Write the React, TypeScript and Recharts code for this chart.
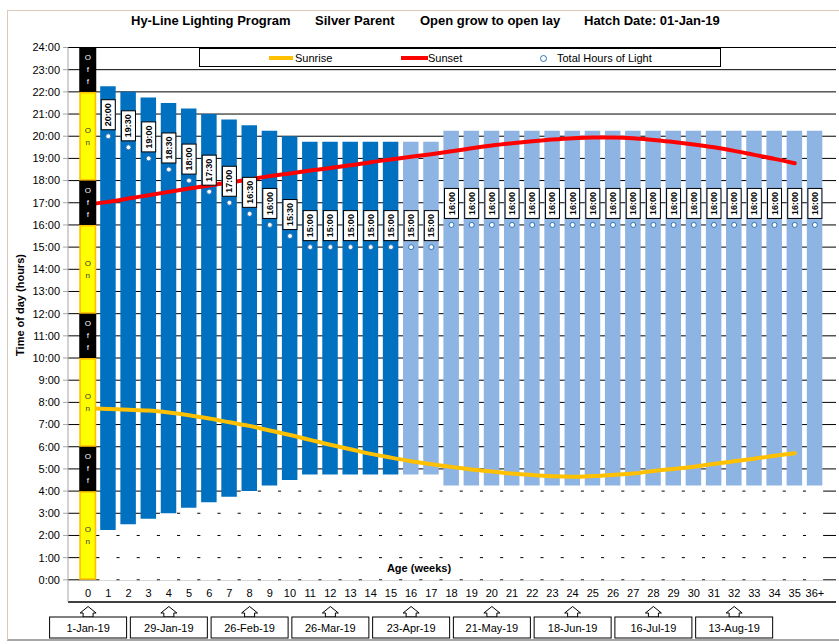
import React from "react";
import {
  Bar,
  CartesianGrid,
  Cell,
  ComposedChart,
  LabelList,
  Legend,
  Line,
  XAxis,
  YAxis,
} from "recharts";

const FONT = '"Liberation Sans", Arial, sans-serif';

const weeks = [
  "0", "1", "2", "3", "4", "5", "6", "7", "8", "9", "10", "11", "12", "13", "14", "15", "16", "17",
  "18", "19", "20", "21", "22", "23", "24", "25", "26", "27", "28", "29", "30", "31", "32", "33", "34", "35", "36+",
];

// time the lights go on (hours)
const lightsOn = [
  null, 2.25, 2.5, 2.75, 3, 3.25, 3.5, 3.75, 4, 4.25, 4.5,
  4.75, 4.75, 4.75, 4.75, 4.75, 4.75, 4.75,
  4.25, 4.25, 4.25, 4.25, 4.25, 4.25, 4.25, 4.25, 4.25, 4.25, 4.25, 4.25, 4.25, 4.25, 4.25, 4.25, 4.25, 4.25, 4.25,
];

// total hours of light
const totalHours = [
  null, 20, 19.5, 19, 18.5, 18, 17.5, 17, 16.5, 16, 15.5,
  15, 15, 15, 15, 15, 15, 15,
  16, 16, 16, 16, 16, 16, 16, 16, 16, 16, 16, 16, 16, 16, 16, 16, 16, 16, 16,
];

const sunrise = [
  7.73, 7.7, 7.67, 7.63, 7.54, 7.42, 7.27, 7.1, 6.94, 6.73, 6.53, 6.31, 6.09, 5.89, 5.68, 5.51, 5.35, 5.21,
  5.09, 4.97, 4.88, 4.79, 4.73, 4.67, 4.65, 4.68, 4.73, 4.79, 4.91, 5.0, 5.1, 5.22, 5.35, 5.46, 5.59, 5.71, null,
];

const sunset = [
  16.93, 17.04, 17.19, 17.34, 17.49, 17.64, 17.78, 17.91, 18.05, 18.2, 18.32, 18.45, 18.57, 18.69, 18.83, 18.95, 19.07, 19.19,
  19.32, 19.46, 19.58, 19.68, 19.77, 19.85, 19.91, 19.94, 19.94, 19.91, 19.83, 19.74, 19.63, 19.5, 19.34, 19.16, 18.98, 18.78, null,
];

// day-old intermittent program: 4h on / 2h off
const chickSegments = [4, 2, 4, 2, 4, 2, 4, 2];
const chickLabels = ["On", "Off", "On", "Off", "On", "Off", "On", "Off"];

const dateLabels = [
  "1-Jan-19", "29-Jan-19", "26-Feb-19", "26-Mar-19", "23-Apr-19",
  "21-May-19", "18-Jun-19", "16-Jul-19", "13-Aug-19",
];

const hourTicks = [0, 1, 2, 3, 4, 5, 6, 7, 8, 9, 10, 11, 12, 13, 14, 15, 16, 17, 18, 19, 20, 21, 22, 23, 24];

const data = weeks.map((week, i) => {
  const row: any = {
    week,
    base: lightsOn[i],
    light: totalHours[i],
    total: totalHours[i],
    sunrise: sunrise[i],
    sunset: sunset[i],
  };
  chickSegments.forEach((v, s) => {
    row["seg" + s] = i === 0 ? v : null;
  });
  return row;
});

const fmtHours = (h: number) => {
  const hh = Math.floor(h);
  const mm = Math.round((h - hh) * 60);
  return `${hh}:${mm < 10 ? "0" + mm : mm}`;
};

function WeekTick(props: any) {
  const { x, y, payload } = props;
  const i = weeks.indexOf(payload.value);
  const showDate = i % 4 === 0 && i / 4 < dateLabels.length;
  return (
    <g>
      <text x={x} y={y - 5} textAnchor="middle" fontSize={11} fill="#000" fontFamily={FONT}>
        {payload.value}
      </text>
      {showDate && (
        <g>
          <path
            d={`M${x},${y + 4.5} L${x + 8},${y + 11} L${x + 5},${y + 11} L${x + 5},${y + 15} L${x - 5},${y + 15} L${x - 5},${y + 11} L${x - 8},${y + 11} Z`}
            fill="#fff"
            stroke="#000"
            strokeWidth={1}
          />
          <rect x={x - 38.5} y={y + 15} width={77} height={21} fill="#fff" stroke="#000" strokeWidth={1} />
          <text x={x} y={y + 30} textAnchor="middle" fontSize={11} fill="#000" fontFamily={FONT}>
            {dateLabels[i / 4]}
          </text>
        </g>
      )}
    </g>
  );
}

const segShape = (s: number) => (props: any) => {
  const { x, y, width, height } = props;
  if (!height || Math.abs(height) < 0.5) return null;
  const cx = x + width / 2;
  const on = s % 2 === 0;
  const letters = chickLabels[s].split("");
  const midY = y + height / 2;
  return (
    <g>
      {on ? (
        <rect x={cx - 7.7} y={y + 0.8} width={15.4} height={height - 1.6} fill="#FFFF00" stroke="#FFC000" strokeWidth={1.6} />
      ) : (
        <rect x={cx - 8.5} y={y} width={17} height={height} fill="#000" />
      )}
      {letters.map((ch, k) => (
        <text
          key={k}
          x={cx}
          y={midY + (k - (letters.length - 1) / 2) * 12}
          textAnchor="middle"
          dominantBaseline="central"
          fontSize={8}
          fill={on ? "#333" : "#fff"}
          fontFamily={FONT}
        >
          {ch}
        </text>
      ))}
    </g>
  );
};

function HoursLabel(props: any) {
  const { x, y, value } = props;
  if (value == null) return null;
  return (
    <g>
      <rect x={x - 7} y={y - 36.5} width={14} height={30} fill="#fff" stroke="#000" strokeWidth={1} />
      <text
        transform={`translate(${x},${y - 21.5}) rotate(-90)`}
        textAnchor="middle"
        dominantBaseline="central"
        fontSize={9}
        fontWeight="bold"
        fill="#000"
        fontFamily={FONT}
      >
        {fmtHours(value)}
      </text>
    </g>
  );
}

function LegendBox() {
  const txt: React.CSSProperties = { position: "absolute", top: 2, fontSize: 11, lineHeight: "14px", color: "#000" };
  return (
    <div style={{ position: "relative", width: 522, height: 19, border: "1px solid #000", background: "#fff", boxSizing: "border-box", fontFamily: FONT }}>
      <div style={{ position: "absolute", left: 69, top: 7, width: 24, height: 4, background: "#FFC000" }} />
      <span style={{ ...txt, left: 95 }}>Sunrise</span>
      <div style={{ position: "absolute", left: 201, top: 7, width: 27, height: 4, background: "#FF0000" }} />
      <span style={{ ...txt, left: 228 }}>Sunset</span>
      <div style={{ position: "absolute", left: 340, top: 6, width: 5, height: 5, borderRadius: "50%", border: "1px solid #2E75B6", background: "#fff" }} />
      <span style={{ ...txt, left: 357 }}>Total Hours of Light</span>
    </div>
  );
}

export default function App() {
  return (
    <div style={{ position: "absolute", left: 0, top: 0, width: 839, height: 644, overflow: "hidden", background: "#fff", fontFamily: FONT }}>
      <div style={{ position: "absolute", left: 7, top: 10, width: 840, height: 628, border: "1px solid #dcc7b9", borderBottom: "2px solid #a6a6a6" }} />
      <ComposedChart
        width={839}
        height={644}
        data={data}
        barSize={15.5}
        margin={{ top: 47.5, right: 3, bottom: 6, left: 8 }}
        style={{ fontFamily: FONT }}
      >
        <CartesianGrid vertical={false} stroke="#000" strokeWidth={1} />
        <XAxis
          dataKey="week"
          interval={0}
          padding={{ left: 10, right: 11 }}
          height={36}
          tickSize={0}
          tickMargin={0}
          tickLine={false}
          axisLine={{ stroke: "#000" }}
          tick={(p: any) => <WeekTick {...p} />}
        />
        <YAxis
          type="number"
          domain={[-1, 24]}
          ticks={hourTicks}
          interval={0}
          width={60}
          tickFormatter={(v: number) => `${v}:00`}
          axisLine={{ stroke: "#a6a6a6" }}
          tickLine={{ stroke: "#a6a6a6" }}
          tickSize={5}
          tickMargin={3}
          tick={{ fontSize: 11, fill: "#000" }}
        />
        <Legend
          layout="horizontal"
          verticalAlign="middle"
          align="center"
          wrapperStyle={{ position: "absolute", left: 199, top: 47.5, width: 522, height: 19 }}
          content={() => <LegendBox />}
        />
        <Bar dataKey="base" stackId="s" fill="#fff" stroke="#fff" strokeWidth={1.6} isAnimationActive={false} legendType="none" />
        <Bar dataKey="light" stackId="s" isAnimationActive={false} legendType="none">
          {data.map((_, i) => (
            <Cell key={i} fill={i < 16 ? "#0070C0" : "#8DB4E2"} />
          ))}
        </Bar>
        <Line dataKey="sunrise" type="monotone" stroke="#FFC000" strokeWidth={4} strokeLinecap="round" dot={false} activeDot={false} isAnimationActive={false} />
        <Line dataKey="sunset" type="monotone" stroke="#FF0000" strokeWidth={4} strokeLinecap="round" dot={false} activeDot={false} isAnimationActive={false} />
        {chickSegments.map((_, s) => (
          <Bar
            key={s}
            dataKey={"seg" + s}
            stackId="s"
            shape={segShape(s)}
            isAnimationActive={false}
            legendType="none"
            {...({ zIndex: 450 } as any)}
          />
        ))}
        <Line
          dataKey="total"
          stroke="none"
          dot={{ r: 2.5, fill: "#fff", stroke: "#2E75B6", strokeWidth: 1 }}
          activeDot={false}
          isAnimationActive={false}
        >
          <LabelList dataKey="total" content={(p: any) => <HoursLabel {...p} />} />
        </Line>
      </ComposedChart>
      <div style={{ position: "absolute", top: 13, left: 0, width: 839, height: 16, fontSize: 13, fontWeight: "bold", lineHeight: "16px", color: "#000" }}>
        <span style={{ position: "absolute", left: 131 }}>Hy-Line Lighting Program</span>
        <span style={{ position: "absolute", left: 315 }}>Silver Parent</span>
        <span style={{ position: "absolute", left: 420 }}>Open grow to open lay</span>
        <span style={{ position: "absolute", left: 584 }}>Hatch Date: 01-Jan-19</span>
      </div>
      <div style={{ position: "absolute", left: 20, top: 305, transform: "translate(-50%, -50%) rotate(-90deg)", whiteSpace: "nowrap", fontSize: 11, fontWeight: "bold", color: "#000" }}>
        Time of day (hours)
      </div>
      <div style={{ position: "absolute", left: 419, top: 568, transform: "translate(-50%, -50%)", whiteSpace: "nowrap", fontSize: 11, fontWeight: "bold", color: "#000" }}>
        Age (weeks)
      </div>
    </div>
  );
}
